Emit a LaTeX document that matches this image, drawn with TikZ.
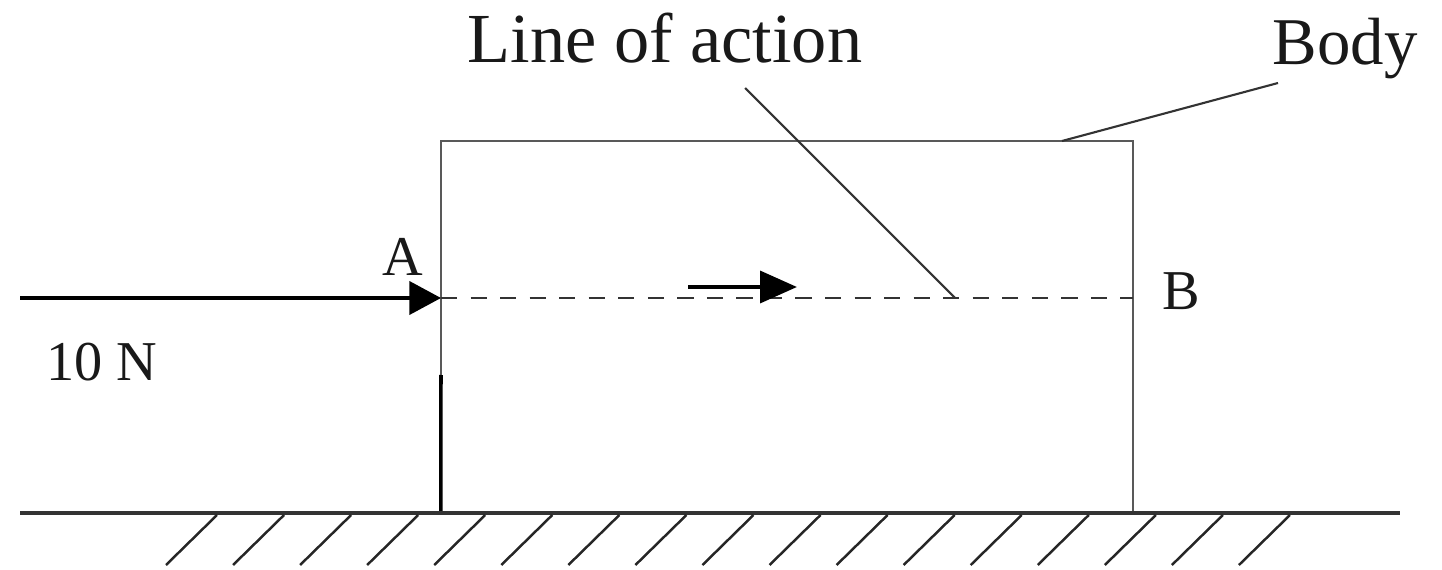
\documentclass[tikz,border=0pt]{standalone}
\usepackage{fontspec}
\setmainfont{Liberation Serif}
\usetikzlibrary{arrows.meta}

\begin{document}
\begin{tikzpicture}[
    x=0.01cm, y=-0.01cm,
    every node/.style={inner sep=0pt, text=black!90},
    label/.style={anchor=base, font=\fontsize{20}{24}\selectfont},
    point/.style={anchor=base, font=\fontsize{16}{19}\selectfont},
    body/.style={
        draw=black!65,
        line width=0.6pt,
        outer sep=0pt,
        minimum width=6.92cm,
        minimum height=3.72cm
    },
    leader/.style={draw=black!80, line width=0.6pt},
    force/.style={-{Triangle[length=9pt, width=9.4pt]}, line width=1.1pt},
    dir/.style={-{Triangle[length=10.5pt, width=9pt]}, line width=1.3pt},
    hatch/.style={draw=black!85, line width=0.7pt}
]

    % frame
    \useasboundingbox (0,0) rectangle (1442,570);

    % Body
    \node[body] (box) at (787,327) {};
    \coordinate (ptA) at (441,298);
    \coordinate (ptB) at (1133,298);
    \coordinate (boxlow) at (441,375);
    \draw[line width=1pt] (boxlow) -- (box.south west);

    % Ground
    \coordinate (gl) at (20,513);
    \coordinate (gr) at (1400,513);
    \draw[draw=black!80, line width=1.2pt] (gl) -- (gr);
    \foreach \i in {0,...,16}
        \draw[hatch] ({217+67.06*\i},515) -- ++(-51,50);

    % Force
    \coordinate (fstart) at (20,298);
    \draw[force] (fstart) -- (ptA);
    \node[point] (labA) at (403,275) {A};
    \node[point] (labB) at (1181,310) {B};
    \node[point] (labF) at (102,380) {10 N};

    % Line of action
    \draw[leader, dashed, dash pattern=on 4.6pt off 3.8pt] (ptA) -- (ptB);
    \coordinate (dtail) at (688,287);
    \coordinate (dhead) at (797,287);
    \draw[dir] (dtail) -- (dhead);

    % Labels
    \node[label] (loa) at (665,63) {Line of action};
    \coordinate (loatail) at (745,88);
    \coordinate (loahead) at (955,298);
    \draw[leader] (loatail) -- (loahead);

    \node[label, font=\fontsize{19}{23}\selectfont] (bodylab) at (1345,65) {Body};
    \coordinate (bodytail) at (1278,83);
    \coordinate (bodyhead) at (1062,141);
    \draw[leader] (bodytail) -- (bodyhead);

\end{tikzpicture}
\end{document}
